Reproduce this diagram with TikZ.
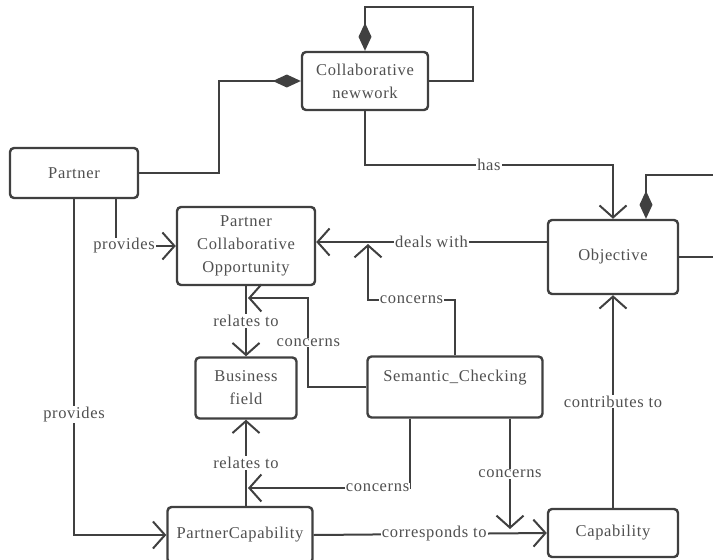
\documentclass[tikz,border=0pt]{standalone}
\usepackage{xcolor}
\usepackage{fontspec}
\setmainfont{Liberation Serif}[LetterSpace=4]
\usepackage{tikz}
\usetikzlibrary{arrows.meta}

\definecolor{linec}{HTML}{404040}
\definecolor{textc}{HTML}{505050}

\begin{document}
\begin{tikzpicture}[x=1pt, y=-1pt,
    box/.style={draw=linec, line width=2.4pt, rounded corners=4pt, fill=white, text=textc, align=center, inner sep=2pt, font=\fontsize{16.5}{23}\selectfont},
    conn/.style={draw=linec, line width=2pt},
    lbl/.style={fill=white, text=textc, inner sep=1pt, font=\fontsize{16.5}{20}\selectfont},
    arr/.style={arrows={-Straight Barb[length=12pt,width=27pt]}},
    comp end/.style={arrows={-Diamond[length=28pt,width=13pt]}},
    comp start/.style={arrows={Diamond[length=28pt,width=13pt]-}}]
    \useasboundingbox (0,0) rectangle (713,560);

    % Classes
    \node[box, minimum width=126pt, minimum height=58pt] (cn) at (365,81) {Collaborative\\newwork};
    \node[box, minimum width=128pt, minimum height=50pt] (partner) at (74,173) {Partner};
    \node[box, minimum width=138pt, minimum height=78pt] (pco) at (246,246) {Partner\\Collaborative\\Opportunity};
    \node[box, minimum width=130pt, minimum height=74pt] (obj) at (613,257) {Objective};
    \node[box, minimum width=101pt, minimum height=61pt] (bf) at (246,388) {Business\\field};
    \node[box, minimum width=175pt, minimum height=61pt] (sem) at (455,387) {Semantic\_Checking\\ \mbox{}};
    \node[box, minimum width=145pt, minimum height=56pt] (pcap) at (240,535) {PartnerCapability};
    \node[box, minimum width=130pt, minimum height=48pt] (cap) at (613,533) {Capability};

    % Free ends and points on associations
    \coordinate (outA) at (713,175);
    \coordinate (outB) at (713,257);
    \coordinate (jA) at (248,298);
    \coordinate (jB) at (368,244);
    \coordinate (jC) at (248,488);
    \coordinate (jD) at (510,529);

    % Compositions
    \draw[conn, comp start] (cn.north) -- ++(0,-44) -| ([xshift=44pt]cn.east) -- (cn.east);
    \draw[conn, comp end] (partner.east) -- ++(80,0) |- (cn.west);
    \draw[conn, comp start] ([xshift=33pt]obj.north) |- (outA);
    \draw[conn] (obj.east) -- (outB);

    % Associations
    \draw[conn, arr] (cn.south) -- (cn.south |- 0,165) -- node[lbl] (lhas) {has} (obj.north |- 0,165) -- (obj.north);
    \draw[conn, arr] ([xshift=42pt]partner.south) |- node[lbl, pos=0.5, xshift=8pt] (lprov1) {provides} (pco.west);
    \draw[conn, arr] (partner.south) |- node[lbl, pos=0.32] (lprov2) {provides} (pcap.west);
    \draw[conn, arr] (obj.west |- 0,242) -- node[lbl] (ldeals) {deals with} (pco.east |- 0,242);
    \draw[conn, arr] (pco.south) -- node[lbl] (lrel1) {relates to} (bf.north);
    \draw[conn, arr] (pcap.north -| bf.south) -- node[lbl] (lrel2) {relates to} (bf.south);
    \draw[conn, arr] (pcap.east) -- node[lbl, xshift=4pt] (lcorr) {corresponds to} (cap.west);
    \draw[conn, arr] (cap.north) -- node[lbl] (lcontr) {contributes to} (obj.south);

    % Semantic checks
    \draw[conn, arr] (sem.west) -- ++(-58,0) |- node[lbl, pos=0.25] (lcon1) {concerns} (jA);
    \draw[conn, arr] (sem.north) |- node[lbl, pos=0.75] (lcon2) {concerns} (jB |- 0,300) -- (jB);
    \draw[conn, arr] ([xshift=-45pt]sem.south) |- node[lbl, pos=0.6] (lcon3) {concerns} (jC);
    \draw[conn, arr] ([xshift=55pt]sem.south) -- node[lbl] (lcon4) {concerns} (jD);
\end{tikzpicture}
\end{document}
